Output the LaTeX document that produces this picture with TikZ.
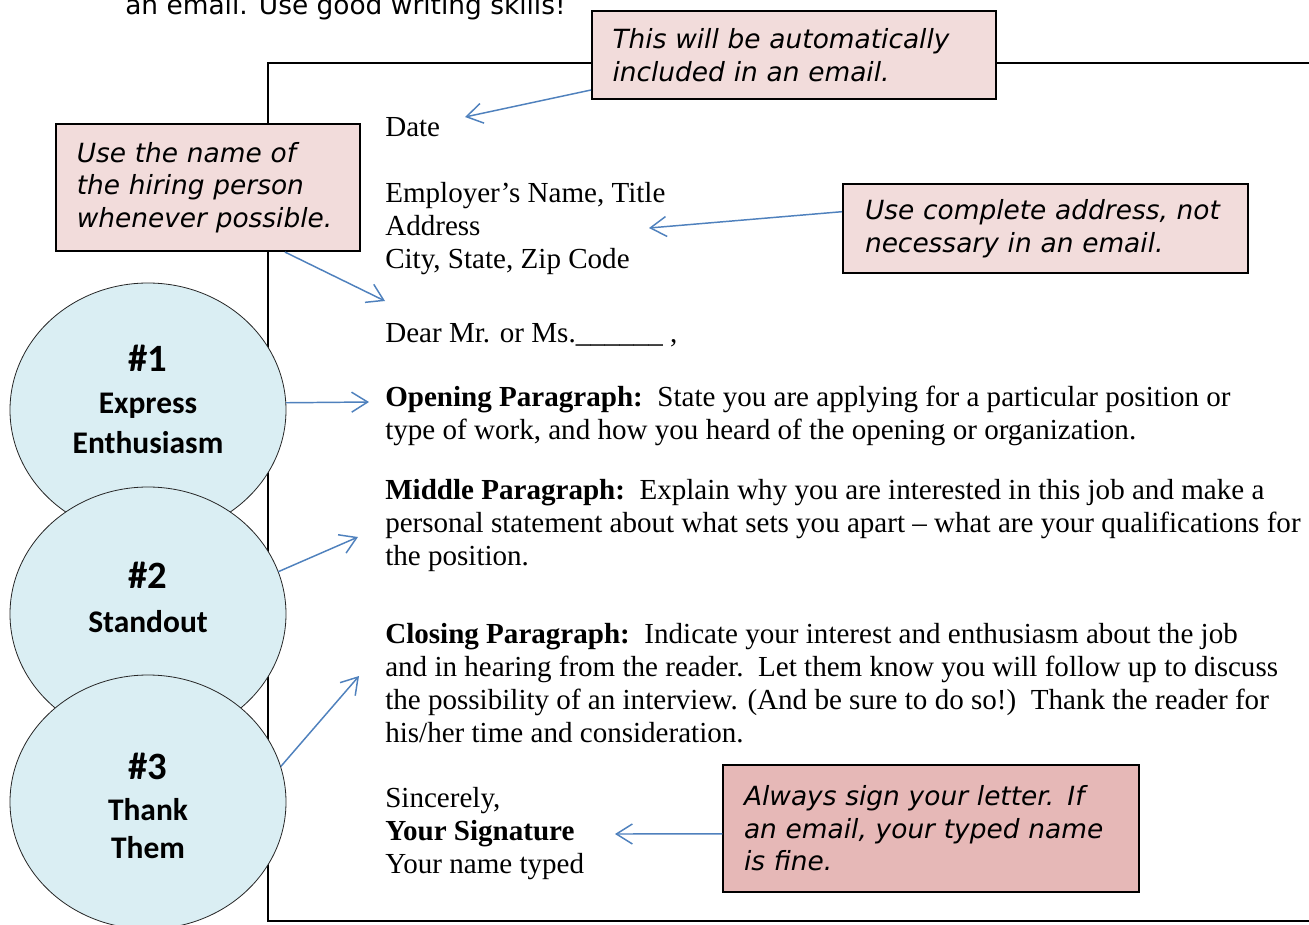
\documentclass[tikz,border=0pt]{standalone}
\usepackage{fontspec}
\setmainfont{Liberation Serif}
\newfontfamily\verdfont{DejaVu Sans}[ItalicFont={DejaVu Sans Oblique}]
\newfontfamily\calfont{Carlito}
\usetikzlibrary{arrows.meta,shapes.geometric}
\definecolor{pinkbox}{HTML}{F2DCDB}
\definecolor{pinkdark}{HTML}{E6B8B7}
\definecolor{circfill}{HTML}{DAEEF3}
\definecolor{arrowblue}{HTML}{4F81BD}
\begin{document}
\begin{tikzpicture}[x=0.75pt,y=-0.75pt,
  ln/.style={anchor=base west,inner sep=0pt,font=\fontsize{21.8}{24.75}\selectfont},
  callout/.style={draw=black,line width=1.5pt,fill=pinkbox,align=left,
    font=\verdfont\itshape\fontsize{19.8}{24.4}\selectfont,inner ysep=0pt},
  circ/.style={ellipse,draw=black!85,line width=0.6pt,fill=circfill,
    minimum width=207pt,minimum height=190.5pt,inner sep=0pt},
  numtxt/.style={anchor=base,inner sep=0pt,font=\calfont\bfseries\fontsize{29}{34}\selectfont},
  wordtxt/.style={anchor=base,inner sep=0pt,font=\calfont\bfseries\fontsize{23.6}{28}\selectfont},
  arr/.style={draw=arrowblue,line width=1.1pt,-{Straight Barb[length=12pt,width=15pt]}},
  frame/.style={draw=black,line width=1.5pt}
]
\useasboundingbox (0,0) rectangle (1309,924);
\fill[white] (0,0) rectangle (1309,924);

% top text (cut off)
\node[anchor=base west,inner sep=0pt,font=\verdfont\fontsize{19.8}{24}\selectfont] (top) at (125,15) {an email. Use good writing skills!};

% letter frame
\draw[frame] (268,63) rectangle (1340,921);

% circles
\node[circ] (e1) at (148,410) {};
\node[circ] (e2) at (148,614) {};
\node[circ] (e3) at (148,802) {};
\node[numtxt] (n1) at (148,371) {\#1};
\node[wordtxt] (w1a) at (148,413) {Express};
\node[wordtxt] (w1b) at (148,453) {Enthusiasm};
\node[numtxt] (n2) at (148,588) {\#2};
\node[wordtxt] (w2a) at (148,632) {Standout};
\node[numtxt] (n3) at (148,779) {\#3};
\node[wordtxt] (w3a) at (148,820) {Thank};
\node[wordtxt] (w3b) at (148,858) {Them};

% callouts
\node[callout,text width=272.2pt,inner xsep=15.4pt,minimum height=66pt] (c1) at (794,55)
  {This will be automatically\\ included in an email.};
\node[callout,text width=196.7pt,inner xsep=15.75pt,minimum height=95pt] (c2) at (207.9,187.7)
  {Use the name of\\ the hiring person\\ whenever possible.};
\node[callout,text width=270.75pt,inner xsep=16.5pt,minimum height=66.75pt] (c3) at (1045.5,228.5)
  {Use complete address, not\\ necessary in an email.};
\node[callout,fill=pinkdark,text width=280.5pt,inner xsep=15.4pt,minimum height=95.25pt] (c4) at (931,828.5)
  {Always sign your letter. If\\ an email, your typed name\\ is fine.};

% letter text
\node[ln] (date) at (385,136) {Date};
\node[ln] (emp) at (385,202) {Employer’s Name, Title};
\node[ln] (addr) at (385,235) {Address};
\node[ln] (city) at (385,268) {City, State, Zip Code};
\node[ln] (dear) at (385,342) {Dear Mr. or Ms.\_\_\_\_\_\_ ,};
\node[ln] (op1) at (385,406) {\textbf{Opening Paragraph:}\hspace{0.5em}State you are applying for a particular position or};
\node[ln] (op2) at (385,439) {type of work, and how you heard of the opening or organization.};
\node[ln] (mid1) at (385,499) {\textbf{Middle Paragraph:}\hspace{0.5em}Explain why you are interested in this job and make a};
\node[ln] (mid2) at (385,532) {personal statement about what sets you apart – what are your qualifications for};
\node[ln] (mid3) at (385,565) {the position.};
\node[ln] (cl1) at (385,643) {\textbf{Closing Paragraph:}\hspace{0.5em}Indicate your interest and enthusiasm about the job};
\node[ln] (cl2) at (385,676) {and in hearing from the reader.\hspace{0.5em}Let them know you will follow up to discuss};
\node[ln] (cl3) at (385,709) {the possibility of an interview. (And be sure to do so!)\hspace{0.5em}Thank the reader for};
\node[ln] (cl4) at (385,742) {his/her time and consideration.};
\node[ln] (sinc) at (385,807) {Sincerely,};
\node[ln] (sig) at (385,840) {\textbf{Your Signature}};
\node[ln] (typed) at (385,873) {Your name typed};

% arrow tips
\coordinate (a1) at (465,117);
\coordinate (a2) at (649,228);
\coordinate (a3) at (385,301);
\coordinate (a4) at (369,402);
\coordinate (a5) at (358,537);
\coordinate (a6) at (359,676);
\coordinate (a7) at (615,834);

\draw[arr] ([yshift=7.5pt]c1.south west) -- (a1);
\draw[arr] ([yshift=12.6pt]c3.west) -- (a2);
\draw[arr] ([xshift=57.75pt]c2.south) -- (a3);
\draw[arr] (e1.3) -- (a4);
\draw[arr] (e2.18) -- (a5);
\draw[arr] (e3.15) -- (a6);
\draw[arr] ([yshift=-4pt]c4.west) -- (a7);
\end{tikzpicture}
\end{document}
